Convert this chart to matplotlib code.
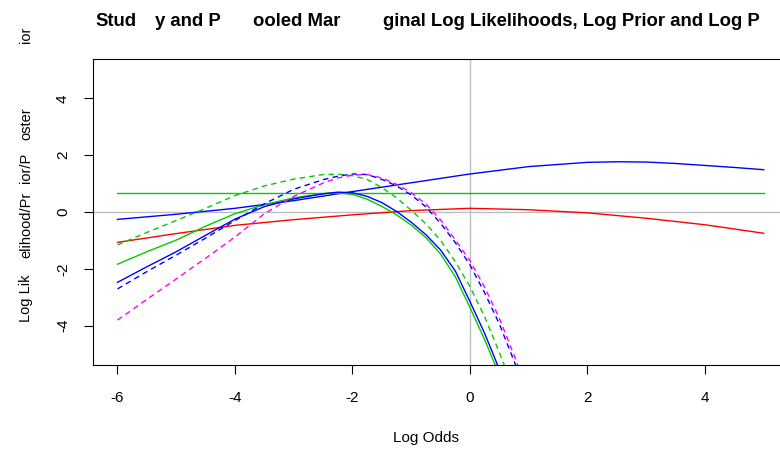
import matplotlib
matplotlib.use("Agg")
import matplotlib.pyplot as plt

plt.rcParams['font.family'] = ['Liberation Sans', 'DejaVu Sans']
plt.rcParams['axes.unicode_minus'] = False

# flat curves (prior / posterior style)
x_wide = [-6, -5, -4, -3, -2, -1, 0, 1, 2, 2.5, 3, 3.5, 4, 4.5, 5]
blue_top = [-0.26, -0.08, 0.13, 0.40, 0.72, 1.03, 1.34, 1.60, 1.75, 1.77, 1.76, 1.71, 1.64, 1.57, 1.49]
x_red = [-6, -5, -4, -3, -2, -1, 0, 1, 2, 3, 4, 5]
red_vals = [-1.07, -0.76, -0.47, -0.27, -0.10, 0.05, 0.13, 0.08, -0.03, -0.22, -0.45, -0.75]
x_flat = [-6, 5]
green_flat = [0.67, 0.67]

# study / pooled log likelihoods
x_steep = [-6, -5.5, -5, -4.5, -4, -3.5, -3, -2.5, -2.25, -2, -1.75, -1.5, -1.25,
           -1, -0.75, -0.5, -0.25, 0, 0.25, 0.5, 0.75, 1.0]
green_solid = [-1.84, -1.40, -0.99, -0.50, -0.06, 0.26, 0.50, 0.65, 0.68, 0.62, 0.45, 0.20, -0.10,
               -0.46, -0.90, -1.48, -2.28, -3.37, -4.50, -5.75, -7.0, -8.3]
blue_solid = [-2.48, -1.93, -1.40, -0.82, -0.25, 0.19, 0.46, 0.64, 0.70, 0.68, 0.55, 0.33, 0.02,
              -0.36, -0.80, -1.34, -2.08, -3.16, -4.28, -5.55, -6.9, -8.2]
green_dash = [-1.16, -0.72, -0.30, 0.13, 0.58, 0.92, 1.16, 1.32, 1.33, 1.28, 1.15, 0.86, 0.50,
              0.06, -0.42, -1.00, -1.75, -2.63, -3.70, -4.95, -6.3, -7.7]
blue_dash = [-2.71, -2.10, -1.52, -0.92, -0.30, 0.29, 0.80, 1.14, 1.26, 1.34, 1.32, 1.15, 0.92,
             0.60, 0.18, -0.40, -1.08, -1.87, -2.85, -3.95, -5.25, -6.6]
magenta_dash = [-3.81, -3.08, -2.36, -1.63, -0.88, -0.06, 0.55, 1.02, 1.20, 1.30, 1.32, 1.20, 0.98,
                0.68, 0.28, -0.28, -0.98, -1.72, -2.65, -3.75, -5.05, -6.4]

fig = plt.figure(figsize=(7.8, 4.49), dpi=100)
ax = fig.add_axes([93 / 780, 84 / 449, 696.6 / 780, 306 / 449])

ax.axvline(0, color='#BEBEBE', lw=1.0, zorder=1)
ax.axhline(0, color='#BEBEBE', lw=1.0, zorder=1)

lw = 1.0
dash = (0, (4, 3))
ax.plot(x_red, red_vals, color='#FF0000', lw=lw)
ax.plot(x_wide, blue_top, color='#0000FF', lw=lw)
ax.plot(x_flat, green_flat, color='#00CD00', lw=lw)
ax.plot(x_steep, green_solid, color='#00CD00', lw=lw)
ax.plot(x_steep, blue_solid, color='#0000FF', lw=lw)
ax.plot(x_steep, green_dash, color='#00CD00', lw=lw, linestyle=dash)
ax.plot(x_steep, blue_dash, color='#0000FF', lw=lw, linestyle=dash)
ax.plot(x_steep, magenta_dash, color='#FF00FF', lw=lw, linestyle=dash)

ax.set_xlim(-6.417, 5.44)
ax.set_ylim(-5.392, 5.392)
ax.set_xticks([-6, -4, -2, 0, 2, 4])
ax.set_yticks([-4, -2, 0, 2, 4])
ax.tick_params(direction='out', length=6.5, width=0.8, labelsize=11, pad=12)
ax.tick_params(axis='y', pad=10)
plt.setp(ax.get_yticklabels(), rotation=90, va='center')
for s in ax.spines.values():
    s.set_linewidth(0.8)
    s.set_color('black')

# title and labels with the gaps seen in the reference
W, H = 780, 449
tkw = dict(fontsize=13.3, fontweight='bold', va='baseline', ha='left')
fig.text(95 / W, 1 - 25.5 / H, "Stud", **tkw)
fig.text(155 / W, 1 - 25.5 / H, "y and P", **tkw)
fig.text(253 / W, 1 - 25.5 / H, "ooled Mar", **tkw)
fig.text(383 / W, 1 - 25.5 / H, "ginal Log Likelihoods, Log Prior and Log P", **tkw)

fig.text(426 / W, 1 - 438 / H, "Log Odds", fontsize=11, ha='center', va='center')

ykw = dict(fontsize=10.5, rotation=90, ha='center', va='bottom')
for txt, ybot in [("Log Lik", 322), ("elihood/Pr", 258), ("ior/P", 183), ("oster", 140), ("ior", 43)]:
    fig.text(26 / W, 1 - ybot / H, txt, **ykw)

fig.savefig("out.png", dpi=100)
